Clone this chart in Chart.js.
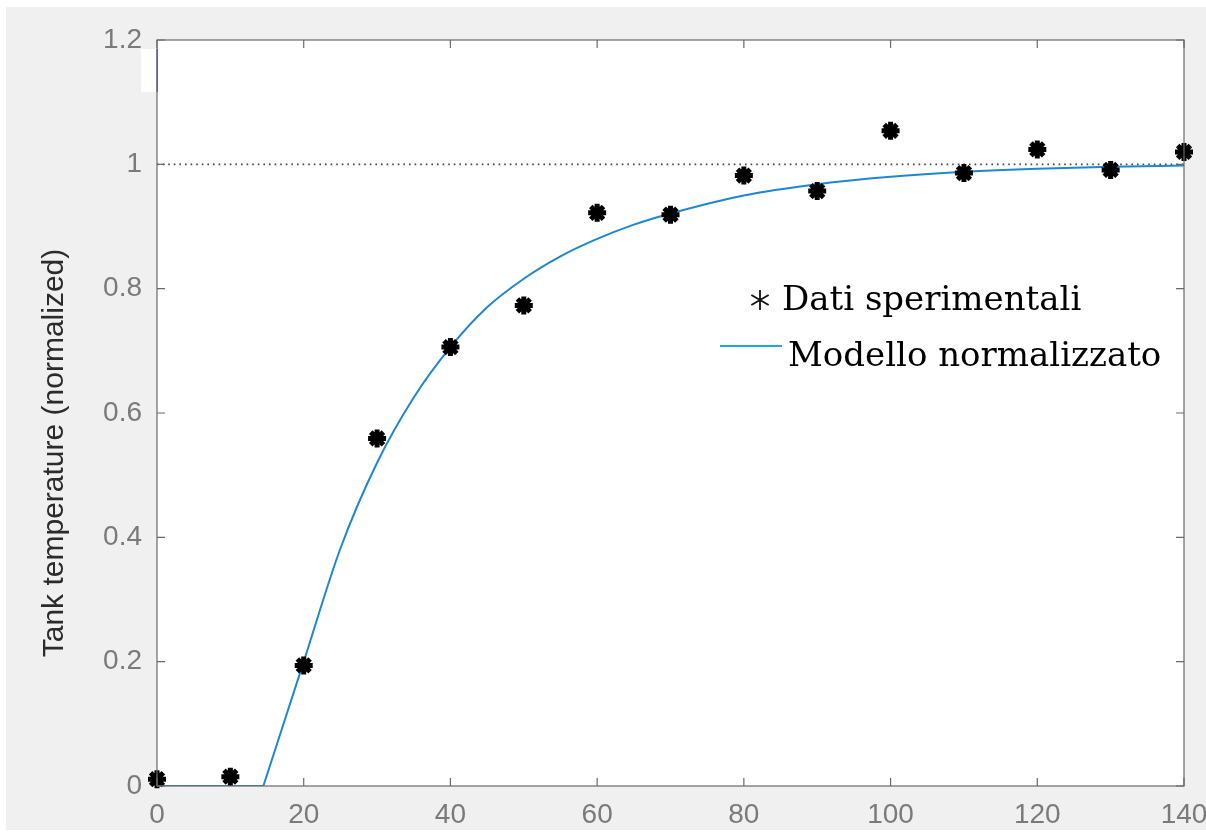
<!DOCTYPE html>
<html>
<head>
<meta charset="utf-8">
<script src="https://cdn.jsdelivr.net/npm/chart.js@4"></script>
<style>
  html, body { margin: 0; padding: 0; background: #ffffff; }
  canvas { display: block; }
</style>
</head>
<body>
<canvas id="tankChart" width="1206" height="833"></canvas>
<script>
// dati sperimentali (tempo, temperatura normalizzata)
var timeSec = [0, 10, 20, 30, 40, 50, 60, 70, 80, 90, 100, 110, 120, 130, 140];
var measured = [0.011, 0.015, 0.194, 0.559, 0.706, 0.773, 0.922, 0.919, 0.982, 0.957, 1.054, 0.986, 1.024, 0.991, 1.020];

// modello normalizzato: tratto piatto (ritardo) e risposta
var delayTime = [0, 14.5];
var delayValue = [0, 0];
var modelTime = [14.5, 20, 25, 30, 35, 40, 45, 50, 55, 60, 65, 70, 80, 90, 100, 110, 120, 130, 140];
var modelValue = [0, 0.200, 0.382, 0.520, 0.625, 0.706, 0.770, 0.816, 0.852, 0.880, 0.903, 0.921, 0.950, 0.968, 0.980, 0.988, 0.993, 0.996, 0.998];

// linea di riferimento a 1
var refTime = [0, 140];
var refValue = [1, 1];

var xTicks = [0, 20, 40, 60, 80, 100, 120, 140];
var yTicks = [0, 0.2, 0.4, 0.6, 0.8, 1, 1.2];

var legendLabels = ["Dati sperimentali", "Modello normalizzato"];
var yTitle = "Tank temperature (normalized)";

function toPoints(xs, ys) {
  return xs.map(function (x, i) { return { x: x, y: ys[i] }; });
}

// sfondo grigio e area bianca
var backgroundPlugin = {
  id: "background",
  beforeDraw: function (chart) {
    var ctx = chart.ctx;
    var a = chart.chartArea;
    ctx.save();
    ctx.fillStyle = "#ffffff";
    ctx.fillRect(0, 0, chart.width, chart.height);
    ctx.fillStyle = "#f0f0f0";
    ctx.fillRect(6, 7, chart.width - 6, chart.height - 10);
    ctx.fillStyle = "#ffffff";
    ctx.fillRect(a.left, a.top, a.right - a.left, a.bottom - a.top);
    ctx.restore();
  }
};

// box, tacche interne, titolo asse y e legenda
var axesPlugin = {
  id: "matlabAxes",
  afterDraw: function (chart) {
    var ctx = chart.ctx;
    var a = chart.chartArea;
    var xs = chart.scales.x;
    var ys = chart.scales.y;
    var tick = 8;
    ctx.save();
    ctx.strokeStyle = "#6a6a6a";
    ctx.lineWidth = 1.2;
    ctx.strokeRect(a.left, a.top, a.right - a.left, a.bottom - a.top);
    ctx.beginPath();
    xTicks.forEach(function (v) {
      var px = xs.getPixelForValue(v);
      ctx.moveTo(px, a.bottom);
      ctx.lineTo(px, a.bottom - tick);
      ctx.moveTo(px, a.top);
      ctx.lineTo(px, a.top + tick);
    });
    yTicks.forEach(function (v) {
      var py = ys.getPixelForValue(v);
      ctx.moveTo(a.left, py);
      ctx.lineTo(a.left + tick, py);
      ctx.moveTo(a.right, py);
      ctx.lineTo(a.right - tick, py);
    });
    ctx.stroke();

    // rettangolino bianco in alto a sinistra
    ctx.fillStyle = "#ffffff";
    ctx.fillRect(a.left - 16, 49, 16, 43);
    ctx.strokeStyle = "#50508a";
    ctx.lineWidth = 1.5;
    ctx.beginPath();
    ctx.moveTo(a.left, 49);
    ctx.lineTo(a.left, 92);
    ctx.stroke();

    // titolo asse y
    ctx.fillStyle = "#2b2b2b";
    ctx.font = "30px 'Liberation Sans', Arial, sans-serif";
    ctx.textAlign = "center";
    ctx.textBaseline = "middle";
    ctx.translate(55, 453);
    ctx.rotate(-Math.PI / 2);
    ctx.fillText(yTitle, 0, 0);
    ctx.restore();

    // legenda
    ctx.save();
    ctx.fillStyle = "#000000";
    ctx.font = "34px 'DejaVu Serif', serif";
    ctx.textAlign = "left";
    ctx.textBaseline = "alphabetic";
    ctx.fillText(legendLabels[0], 782, 310);
    ctx.fillText(legendLabels[1], 788, 366);

    ctx.strokeStyle = "#111111";
    ctx.lineWidth = 1.8;
    var cx = 760, cy = 300, r = 10;
    ctx.beginPath();
    for (var k = 0; k < 3; k++) {
      var ang = Math.PI / 2 + k * Math.PI / 3;
      ctx.moveTo(cx + r * Math.cos(ang), cy + r * Math.sin(ang));
      ctx.lineTo(cx - r * Math.cos(ang), cy - r * Math.sin(ang));
    }
    ctx.stroke();

    ctx.strokeStyle = "#1ea5e9";
    ctx.lineWidth = 2;
    ctx.beginPath();
    ctx.moveTo(720, 346);
    ctx.lineTo(782, 346);
    ctx.stroke();
    ctx.restore();
  }
};

var ctx = document.getElementById("tankChart").getContext("2d");

var modelStyle = {
  showLine: true,
  borderColor: "#1f86d0",
  borderWidth: 2,
  pointRadius: 0,
  cubicInterpolationMode: "monotone",
  order: 1
};

var tankChart = new Chart(ctx, {
  type: "scatter",
  data: {
    datasets: [
      {
        label: legendLabels[0],
        data: toPoints(timeSec, measured),
        showLine: false,
        pointStyle: "star",
        pointRadius: 9,
        pointBorderWidth: 5,
        borderColor: "#000000",
        backgroundColor: "#000000",
        clip: false,
        order: 0
      },
      Object.assign({ label: legendLabels[1], data: toPoints(delayTime, delayValue) }, modelStyle),
      Object.assign({ label: legendLabels[1], data: toPoints(modelTime, modelValue) }, modelStyle),
      {
        label: "ref",
        data: toPoints(refTime, refValue),
        showLine: true,
        borderColor: "#444444",
        borderWidth: 1.6,
        borderDash: [1.6, 4],
        pointRadius: 0,
        order: 2
      }
    ]
  },
  options: {
    responsive: false,
    animation: false,
    devicePixelRatio: 1,
    layout: { padding: { top: 40, right: 22, bottom: 0, left: 0 } },
    plugins: {
      legend: { display: false },
      tooltip: { enabled: false }
    },
    scales: {
      x: {
        type: "linear",
        min: 0,
        max: 140,
        afterBuildTicks: function (scale) {
          scale.ticks = xTicks.map(function (v) { return { value: v }; });
        },
        ticks: {
          color: "#7a7a7a",
          padding: 12,
          maxRotation: 0,
          autoSkip: false,
          font: { family: "'Liberation Sans', Arial, sans-serif", size: 28 }
        },
        grid: { display: false, drawTicks: false },
        border: { display: false },
        afterFit: function (scale) {
          scale.height = 47;
          scale.paddingLeft = 0;
          scale.paddingRight = 0;
        }
      },
      y: {
        type: "linear",
        min: 0,
        max: 1.2,
        afterBuildTicks: function (scale) {
          scale.ticks = yTicks.map(function (v) { return { value: v }; });
        },
        ticks: {
          color: "#7a7a7a",
          padding: 15,
          autoSkip: false,
          font: { family: "'Liberation Sans', Arial, sans-serif", size: 28 },
          callback: function (v) { return String(Math.round(v * 10) / 10); }
        },
        grid: { display: false, drawTicks: false },
        border: { display: false },
        afterFit: function (scale) {
          scale.width = 157;
          scale.paddingTop = 0;
          scale.paddingBottom = 0;
        }
      }
    }
  },
  plugins: [backgroundPlugin, axesPlugin]
});
</script>
</body>
</html>
